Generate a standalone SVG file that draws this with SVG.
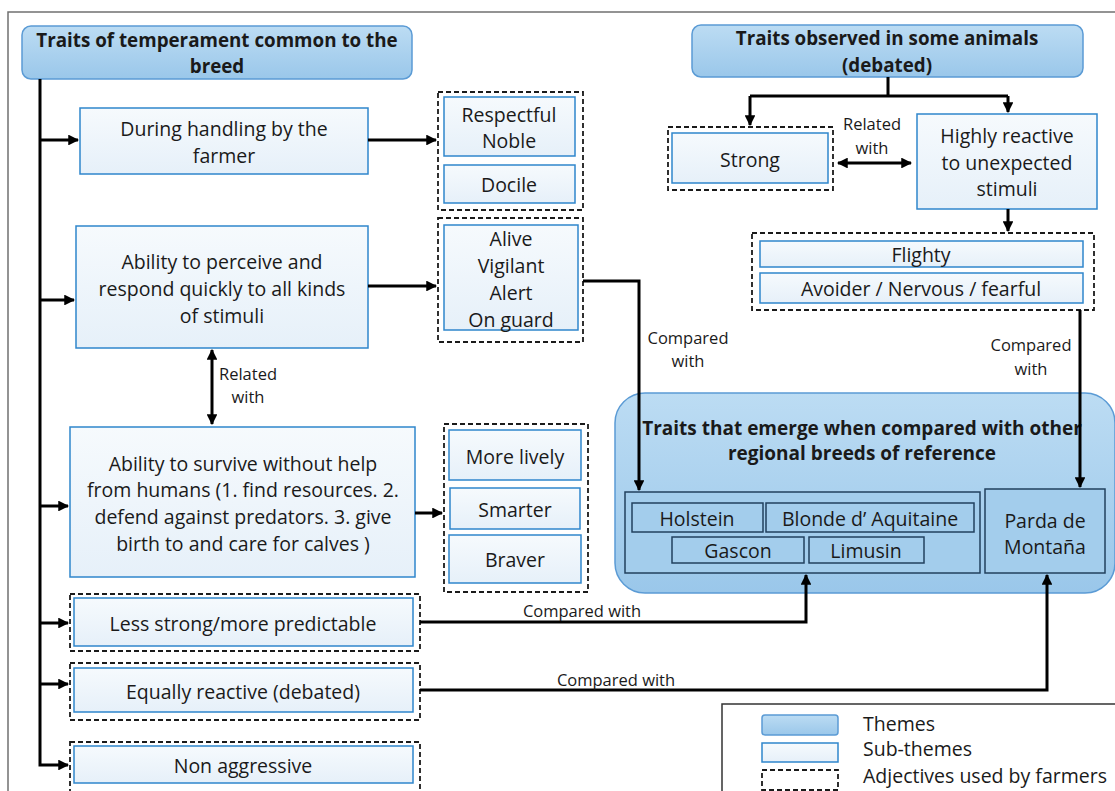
<svg xmlns="http://www.w3.org/2000/svg" width="1115" height="791" viewBox="0 0 1115 791">
<defs>
<linearGradient id="gTheme" x1="0" y1="0" x2="0" y2="1">
<stop offset="0" stop-color="#bcdcf3"/><stop offset="1" stop-color="#9ac7ea"/>
</linearGradient>
<linearGradient id="gSub" x1="0" y1="0" x2="0" y2="1">
<stop offset="0" stop-color="#f6fafd"/><stop offset="1" stop-color="#e6f0f9"/>
</linearGradient>
<marker id="ah" viewBox="0 0 10 10" refX="9" refY="5" markerWidth="3.6" markerHeight="3.6" orient="auto-start-reverse">
<path d="M0 0 L10 5 L0 10 z" fill="#000"/>
</marker>
<style>
text{font-family:"Open Sans","Noto Sans","Liberation Sans",sans-serif;fill:#1a1a1a;text-anchor:middle;dominant-baseline:central}
.b{font-size:19.5px}
.t{font-size:18.8px;font-weight:bold}
.s{font-size:16.5px}
.theme{fill:url(#gTheme);stroke:#5b9bd5;stroke-width:1.5}
.sub{fill:url(#gSub);stroke:#2f86cc;stroke-width:1.5}
.adj{fill:none;stroke:#1a1a1a;stroke-width:1.8;stroke-dasharray:5 3}
.breed{fill:#a3cdec;stroke:#22405e;stroke-width:1.5}
.c{fill:none;stroke:#000;stroke-width:3}
.a{marker-end:url(#ah)}
.d{marker-start:url(#ah);marker-end:url(#ah)}
</style>
</defs>
<rect width="1115" height="791" fill="#fff"/>
<path d="M8 791 V12 H1115" fill="none" stroke="#707070" stroke-width="1.5"/>

<g id="theme1"><rect class="theme" x="22" y="26" width="390" height="53" rx="9"/>
<text class="t" x="217" y="40">Traits of temperament common to the</text>
<text class="t" x="217" y="66">breed</text></g>

<g id="theme2"><rect class="theme" x="692" y="25" width="391" height="52" rx="9"/>
<text class="t" x="887" y="38">Traits observed in some animals</text>
<text class="t" x="887" y="65">(debated)</text></g>

<g id="theme3"><rect class="theme" x="615" y="393" width="500" height="200" rx="30" stroke="#8bb8dc"/>
<text class="t" x="862" y="428" style="font-size:19px">Traits that emerge when compared with other</text>
<text class="t" x="862" y="453" style="font-size:19px">regional breeds of reference</text></g>

<g id="handling"><rect class="sub" x="80" y="108" width="288" height="66"/>
<text class="b" x="224" y="128">During handling by the</text>
<text class="b" x="224" y="155">farmer</text></g>

<g id="adj1"><rect class="adj" x="438" y="92" width="145" height="118"/>
<rect class="sub" x="444" y="97" width="131" height="59"/>
<text class="b" x="509" y="114">Respectful</text>
<text class="b" x="509" y="140">Noble</text>
<rect class="sub" x="444" y="165" width="131" height="38"/>
<text class="b" x="509" y="184">Docile</text></g>

<g id="perceive"><rect class="sub" x="76" y="226" width="292" height="122"/>
<text class="b" x="222" y="261">Ability to perceive and</text>
<text class="b" x="222" y="288">respond quickly to all kinds</text>
<text class="b" x="222" y="315">of stimuli</text></g>

<g id="adj2"><rect class="adj" x="438" y="218" width="145" height="124"/>
<rect class="sub" x="444" y="225" width="134" height="105"/>
<text class="b" x="511" y="238">Alive</text>
<text class="b" x="511" y="265">Vigilant</text>
<text class="b" x="511" y="292">Alert</text>
<text class="b" x="511" y="319">On guard</text></g>

<g id="survive"><rect class="sub" x="70" y="427" width="345" height="150"/>
<text class="b" x="243" y="463">Ability to survive without help</text>
<text class="b" x="243" y="489">from humans (1. find resources. 2.</text>
<text class="b" x="243" y="516">defend against predators. 3. give</text>
<text class="b" x="243" y="543">birth to and care for calves )</text></g>

<g id="adj3"><rect class="adj" x="444" y="424" width="144" height="168"/>
<rect class="sub" x="449" y="430" width="132" height="50"/>
<text class="b" x="515" y="456">More lively</text>
<rect class="sub" x="450" y="488" width="130" height="41"/>
<text class="b" x="515" y="509">Smarter</text>
<rect class="sub" x="449" y="535" width="132" height="48"/>
<text class="b" x="515" y="559">Braver</text></g>

<g id="lessstrong"><rect class="adj" x="70" y="594" width="350" height="57"/>
<rect class="sub" x="74" y="598" width="339" height="48"/>
<text class="b" x="243" y="623">Less strong/more predictable</text></g>

<g id="equally"><rect class="adj" x="70" y="663" width="350" height="57"/>
<rect class="sub" x="74" y="668" width="339" height="44"/>
<text class="b" x="243" y="691">Equally reactive (debated)</text></g>

<g id="nonaggr"><rect class="adj" x="70" y="742" width="350" height="56"/>
<rect class="sub" x="74" y="746" width="339" height="37"/>
<text class="b" x="243" y="765">Non aggressive</text></g>

<g id="strong"><rect class="adj" x="668" y="127" width="165" height="63"/>
<rect class="sub" x="672" y="133" width="156" height="50"/>
<text class="b" x="750" y="159">Strong</text></g>

<g id="reactive"><rect class="sub" x="917" y="114" width="180" height="95"/>
<text class="b" x="1007" y="135">Highly reactive</text>
<text class="b" x="1007" y="162">to unexpected</text>
<text class="b" x="1007" y="188">stimuli</text></g>

<g id="adj4"><rect class="adj" x="752" y="233" width="342" height="77"/>
<rect class="sub" x="760" y="241" width="323" height="26"/>
<text class="b" x="921" y="254">Flighty</text>
<rect class="sub" x="760" y="273" width="323" height="30"/>
<text class="b" x="921" y="288">Avoider / Nervous / fearful</text></g>

<g id="breeds"><rect class="breed" x="625" y="492" width="355" height="81"/>
<rect class="breed" x="632" y="503" width="131" height="29"/>
<text class="b" x="697" y="518">Holstein</text>
<rect class="breed" x="766" y="503" width="208" height="29"/>
<text class="b" x="870" y="518">Blonde d’ Aquitaine</text>
<rect class="breed" x="672" y="537" width="132" height="26"/>
<text class="b" x="738" y="550">Gascon</text>
<rect class="breed" x="809" y="537" width="115" height="26"/>
<text class="b" x="866" y="550">Limusin</text></g>

<g id="parda"><rect class="breed" x="985" y="489" width="120" height="84"/>
<text class="b" x="1045" y="520">Parda de</text>
<text class="b" x="1045" y="546">Montaña</text></g>

<g id="connectors">
<path class="c a" d="M40 79 V765 H68"/>
<path class="c a" d="M40 140 H78"/>
<path class="c a" d="M40 300 H74"/>
<path class="c a" d="M40 506 H68"/>
<path class="c a" d="M40 623 H68"/>
<path class="c a" d="M40 684 H68"/>
<path class="c a" d="M368 140 H436"/>
<path class="c a" d="M368 286 H436"/>
<path class="c a" d="M415 513 H442"/>
<path class="c d" d="M212 350 V424"/>
<text class="s" x="248" y="373">Related</text>
<text class="s" x="248" y="396">with</text>
<path class="c a" d="M583 281 H639 V490"/>
<text class="s" x="688" y="337">Compared</text>
<text class="s" x="688" y="360">with</text>
<path class="c a" d="M420 622 H806 V575"/>
<text class="s" x="582" y="610">Compared with</text>
<path class="c a" d="M420 690 H1047 V575"/>
<text class="s" x="616" y="679">Compared with</text>
<path class="c" d="M888 77 V96 M750 96 H1008"/>
<path class="c a" d="M750 96 V125"/>
<path class="c a" d="M1008 96 V112"/>
<path class="c d" d="M838 163 H911"/>
<text class="s" x="872" y="123">Related</text>
<text class="s" x="872" y="147">with</text>
<path class="c a" d="M1008 209 V231"/>
<path class="c a" d="M1080 310 V487"/>
<text class="s" x="1031" y="344">Compared</text>
<text class="s" x="1031" y="368">with</text>
</g>

<g id="legend"><rect x="722" y="704" width="400" height="100" fill="#fff" stroke="#333" stroke-width="1.5"/>
<rect class="theme" x="762" y="715" width="76" height="20" rx="3"/>
<rect class="sub" x="762" y="743" width="76" height="19"/>
<rect class="adj" x="762" y="770" width="76" height="20"/>
<text class="b" x="863" y="723" style="text-anchor:start">Themes</text>
<text class="b" x="863" y="748" style="text-anchor:start">Sub-themes</text>
<text class="b" x="863" y="775" style="text-anchor:start">Adjectives used by farmers</text></g>
</svg>
